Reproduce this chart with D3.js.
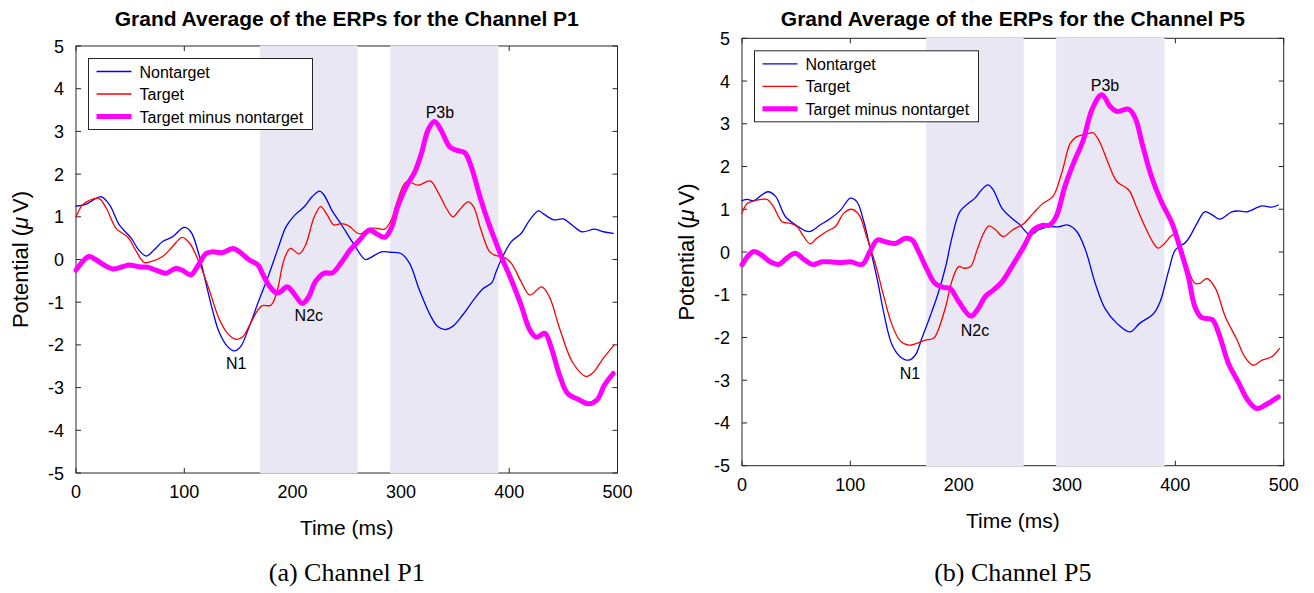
<!DOCTYPE html>
<html>
<head>
<meta charset="utf-8">
<script src="https://cdn.jsdelivr.net/npm/d3@7"></script>
<style>
  body { margin: 0; background: #fff; }
  svg { display: block; }
  text { font-family: "Liberation Sans", Arial, Helvetica, sans-serif; fill: #000; }
  .caption { font-family: "Liberation Serif", "Times New Roman", serif; }
</style>
</head>
<body>
<svg id="chart" width="1314" height="593"></svg>
<script>
// Grand average ERPs for two channels.
// Each series is a list of [time (ms), potential (uV)] pairs.

const xTicks = [0, 100, 200, 300, 400, 500];
const yTicks = [-5, -4, -3, -2, -1, 0, 1, 2, 3, 4, 5];
const shadedWindows = [[170, 260], [290, 390]];
const legendNames = ['Nontarget', 'Target', 'Target minus nontarget'];

// Channel P1
const p1Nontarget = [
  [0, 1.25], [9, 1.29], [15, 1.38], [23, 1.47], [31, 1.28], [40, 0.81], [51, 0.50],
  [58, 0.22], [65, 0.08], [72, 0.22], [80, 0.42], [89, 0.53], [100, 0.75], [106, 0.65],
  [114, 0.07], [120, -0.56], [126, -1.18], [132, -1.69], [140, -2.04], [146, -2.14],
  [152, -2.04], [160, -1.57], [169, -0.95], [178, -0.36], [186, 0.22], [194, 0.77],
  [202, 1.04], [211, 1.24], [218, 1.47], [225, 1.60], [229, 1.51], [237, 1.12],
  [245, 0.82], [256, 0.38], [267, 0.0], [271, 0.03], [282, 0.18], [290, 0.17],
  [300, 0.14], [308, -0.09], [317, -0.71], [327, -1.30], [334, -1.57], [341, -1.64],
  [348, -1.56], [357, -1.30], [367, -0.95], [376, -0.68], [384, -0.54], [388, -0.28],
  [394, 0.07], [402, 0.42], [411, 0.61], [419, 0.93], [427, 1.14], [431, 1.08],
  [441, 0.93], [450, 0.95], [458, 0.81], [467, 0.65], [479, 0.71], [487, 0.65], [496, 0.61]
];
const p1Target = [
  [0, 1.0], [6, 1.28], [12, 1.38], [21, 1.43], [28, 1.20], [37, 0.73], [48, 0.52],
  [55, 0.22], [63, -0.07], [69, -0.05], [80, 0.07], [89, 0.30], [98, 0.52], [105, 0.38],
  [114, -0.09], [123, -0.71], [132, -1.38], [140, -1.73], [148, -1.87], [154, -1.81],
  [161, -1.50], [168, -1.18], [172, -1.08], [180, -1.07], [186, -0.71], [192, -0.01],
  [198, 0.26], [206, 0.13], [212, 0.34], [220, 1.0], [226, 1.24], [232, 1.04],
  [238, 0.81], [245, 0.84], [251, 0.80], [262, 0.60], [271, 0.73], [278, 0.73],
  [285, 0.71], [291, 0.92], [297, 1.39], [305, 1.82], [316, 1.74], [327, 1.84],
  [334, 1.59], [342, 1.20], [348, 1.0], [354, 1.16], [362, 1.35], [367, 1.24],
  [374, 0.69], [382, 0.18], [388, 0.09], [394, 0.07], [402, -0.09], [411, -0.52],
  [419, -0.83], [430, -0.64], [437, -0.87], [447, -1.65], [459, -2.43], [471, -2.74],
  [477, -2.66], [487, -2.31], [497, -2.0]
];
const p1Difference = [
  [0, -0.25], [6, -0.05], [12, 0.07], [18, 0.0], [26, -0.13], [34, -0.22], [43, -0.17],
  [49, -0.13], [58, -0.17], [66, -0.18], [74, -0.25], [83, -0.32], [92, -0.21],
  [98, -0.25], [106, -0.36], [112, -0.17], [120, 0.14], [126, 0.18], [135, 0.16],
  [145, 0.26], [151, 0.18], [160, -0.01], [168, -0.13], [172, -0.32], [178, -0.60],
  [185, -0.78], [189, -0.75], [195, -0.64], [201, -0.79], [209, -1.03], [215, -0.87],
  [221, -0.52], [229, -0.32], [237, -0.31], [245, -0.07], [253, 0.22], [262, 0.46],
  [271, 0.69], [277, 0.61], [285, 0.52], [291, 0.73], [297, 1.24], [305, 1.71],
  [313, 2.06], [319, 2.49], [325, 3.03], [331, 3.23], [337, 3.03], [345, 2.64],
  [351, 2.56], [359, 2.50], [365, 2.17], [373, 1.47], [381, 0.85], [388, 0.38],
  [394, -0.01], [402, -0.48], [411, -1.07], [419, -1.65], [425, -1.82], [433, -1.73],
  [439, -2.08], [447, -2.75], [454, -3.14], [465, -3.29], [473, -3.38], [481, -3.29],
  [488, -2.94], [496, -2.67]
];
const p1Labels = [
  { text: 'N1', t: 148, v: -2.42 },
  { text: 'N2c', t: 215, v: -1.30 },
  { text: 'P3b', t: 336, v: 3.46 }
];

// Channel P5
const p5Nontarget = [
  [0, 1.20], [5, 1.23], [11, 1.20], [18, 1.33], [24, 1.41], [31, 1.30], [40, 0.83],
  [51, 0.61], [58, 0.50], [63, 0.48], [72, 0.63], [81, 0.77], [91, 0.98], [100, 1.26],
  [106, 1.18], [112, 0.75], [118, 0.12], [125, -0.66], [131, -1.44], [138, -2.14],
  [146, -2.45], [154, -2.53], [160, -2.41], [166, -2.02], [174, -1.48], [181, -0.97],
  [188, -0.34], [194, 0.36], [201, 0.94], [209, 1.14], [215, 1.26], [221, 1.45],
  [227, 1.57], [232, 1.45], [240, 1.02], [249, 0.79], [256, 0.65], [266, 0.40],
  [274, 0.52], [283, 0.59], [292, 0.59], [301, 0.63], [309, 0.48], [317, 0.05],
  [326, -0.73], [335, -1.32], [346, -1.67], [358, -1.87], [367, -1.67], [380, -1.44],
  [386, -1.16], [394, -0.42], [400, 0.05], [410, 0.24], [420, 0.67], [427, 0.94],
  [434, 0.87], [441, 0.77], [452, 0.94], [458, 0.96], [466, 0.94], [480, 1.08],
  [489, 1.05], [495, 1.10]
];
const p5Target = [
  [0, 0.91], [5, 1.14], [12, 1.20], [23, 1.23], [29, 1.06], [37, 0.71], [45, 0.67],
  [51, 0.59], [57, 0.36], [63, 0.19], [69, 0.32], [78, 0.48], [86, 0.59], [94, 0.91],
  [101, 1.0], [108, 0.87], [115, 0.36], [123, -0.27], [131, -1.05], [138, -1.67],
  [146, -2.08], [154, -2.18], [161, -2.14], [169, -2.06], [177, -2.02], [181, -1.83],
  [188, -1.28], [194, -0.66], [200, -0.34], [205, -0.38], [211, -0.34], [217, 0.05],
  [223, 0.44], [228, 0.61], [234, 0.52], [241, 0.36], [250, 0.52], [260, 0.66],
  [269, 0.91], [277, 1.12], [287, 1.30], [295, 1.84], [303, 2.54], [309, 2.70],
  [318, 2.76], [324, 2.79], [330, 2.58], [338, 2.08], [346, 1.65], [357, 1.45],
  [364, 1.06], [372, 0.59], [380, 0.20], [384, 0.09], [390, 0.20], [398, 0.40],
  [404, 0.20], [410, -0.27], [418, -0.73], [423, -0.73], [429, -0.62], [437, -0.85],
  [446, -1.51], [457, -2.06], [464, -2.45], [472, -2.65], [480, -2.53], [489, -2.45],
  [496, -2.26]
];
const p5Difference = [
  [0, -0.30], [5, -0.11], [11, 0.01], [18, -0.07], [26, -0.23], [34, -0.29], [41, -0.15],
  [49, -0.03], [57, -0.17], [65, -0.29], [74, -0.23], [81, -0.23], [91, -0.25],
  [100, -0.23], [111, -0.29], [118, 0.01], [125, 0.28], [132, 0.24], [141, 0.20],
  [151, 0.32], [157, 0.28], [163, 0.01], [171, -0.42], [178, -0.73], [186, -0.83],
  [192, -0.85], [200, -1.16], [211, -1.50], [217, -1.36], [225, -1.03], [232, -0.89],
  [240, -0.70], [250, -0.30], [260, 0.12], [269, 0.52], [277, 0.62], [284, 0.63],
  [290, 0.83], [298, 1.53], [306, 2.08], [315, 2.62], [323, 3.33], [332, 3.68],
  [340, 3.40], [346, 3.29], [357, 3.34], [363, 3.13], [370, 2.47], [378, 1.76],
  [387, 1.18], [397, 0.67], [404, 0.12], [412, -0.58], [418, -1.28], [424, -1.53],
  [434, -1.58], [440, -1.90], [449, -2.61], [458, -3.04], [467, -3.47], [475, -3.66],
  [483, -3.58], [495, -3.39]
];
const p5Labels = [
  { text: 'N1', t: 155, v: -2.83 },
  { text: 'N2c', t: 215, v: -1.83 },
  { text: 'P3b', t: 335, v: 3.91 }
];

const seriesStyles = [
  { color: '#0000ff', width: 1.3 },
  { color: '#ff0000', width: 1.3 },
  { color: '#ff00ff', width: 5 }
];

const svg = d3.select('#chart');
svg.append('rect').attr('width', 1314).attr('height', 593).attr('fill', '#fff');

function drawPanel(opts) {
  const { left, top, width, height } = opts;
  const g = svg.append('g');

  const x = d3.scaleLinear().domain([0, 500]).range([left, left + width]);
  const y = d3.scaleLinear().domain([-5, 5]).range([top + height, top]);

  // Box and inward ticks (MATLAB style)
  const axisColor = '#262626';
  g.append('rect')
    .attr('x', left).attr('y', top)
    .attr('width', width).attr('height', height)
    .attr('fill', 'none').attr('stroke', axisColor).attr('stroke-width', 1);

  const tickLen = 5;
  const ticks = g.append('g').attr('stroke', axisColor).attr('stroke-width', 1);
  xTicks.forEach(t => {
    ticks.append('line').attr('x1', x(t)).attr('x2', x(t))
      .attr('y1', top + height).attr('y2', top + height - tickLen);
    ticks.append('line').attr('x1', x(t)).attr('x2', x(t))
      .attr('y1', top).attr('y2', top + tickLen);
  });
  yTicks.forEach(v => {
    ticks.append('line').attr('x1', left).attr('x2', left + tickLen)
      .attr('y1', y(v)).attr('y2', y(v));
    ticks.append('line').attr('x1', left + width).attr('x2', left + width - tickLen)
      .attr('y1', y(v)).attr('y2', y(v));
  });

  // Shaded analysis windows (drawn over the box, like the original)
  g.selectAll('rect.win')
    .data(shadedWindows)
    .enter().append('rect')
    .attr('class', 'win')
    .attr('x', d => x(d[0]))
    .attr('width', d => x(d[1]) - x(d[0]))
    .attr('y', top - 0.5)
    .attr('height', height + 1)
    .attr('fill', '#e9e7f3');

  // Tick labels
  g.selectAll('text.xt')
    .data(xTicks)
    .enter().append('text')
    .attr('x', d => x(d))
    .attr('y', top + height + 25)
    .attr('text-anchor', 'middle')
    .attr('font-size', 18)
    .text(d => d);
  g.selectAll('text.yt')
    .data(yTicks)
    .enter().append('text')
    .attr('x', left - 12)
    .attr('y', d => y(d) + 6.5)
    .attr('text-anchor', 'end')
    .attr('font-size', 18)
    .text(d => d);

  // Axis titles
  g.append('text')
    .attr('x', left + width / 2)
    .attr('y', top + height + 62)
    .attr('text-anchor', 'middle')
    .attr('font-size', 21)
    .text('Time (ms)');
  const yl = g.append('text')
    .attr('transform', `translate(${left - 48},${top + height / 2}) rotate(-90)`)
    .attr('text-anchor', 'middle')
    .attr('font-size', 22);
  yl.append('tspan').text('Potential (');
  yl.append('tspan').attr('font-style', 'italic').text('\u03bc');
  yl.append('tspan').attr('dx', 4).text('V)');

  g.append('text')
    .attr('x', left + width / 2)
    .attr('y', 26)
    .attr('text-anchor', 'middle')
    .attr('font-size', 21)
    .attr('font-weight', 'bold')
    .text(opts.title);

  g.append('text')
    .attr('class', 'caption')
    .attr('x', left + width / 2)
    .attr('y', 581)
    .attr('text-anchor', 'middle')
    .attr('font-size', 26)
    .text(opts.caption);

  // ERP curves
  const line = d3.line()
    .x(d => x(d[0]))
    .y(d => y(d[1]))
    .curve(d3.curveCatmullRom.alpha(0.5));

  opts.series.forEach((s, i) => {
    g.append('path')
      .datum(s)
      .attr('d', line)
      .attr('fill', 'none')
      .attr('stroke', seriesStyles[i].color)
      .attr('stroke-width', seriesStyles[i].width)
      .attr('stroke-linejoin', 'round')
      .attr('stroke-linecap', 'round');
  });

  // Component labels
  g.selectAll('text.comp')
    .data(opts.labels)
    .enter().append('text')
    .attr('x', d => x(d.t))
    .attr('y', d => y(d.v) + 6)
    .attr('text-anchor', 'middle')
    .attr('font-size', 16)
    .text(d => d.text);

  // Legend
  const lg = g.append('g').attr('transform', `translate(${left + 12.5},${top + 12.5})`);
  lg.append('rect')
    .attr('width', 224).attr('height', 71)
    .attr('fill', '#fff').attr('stroke', axisColor).attr('stroke-width', 1);
  legendNames.forEach((name, i) => {
    const ry = 13 + i * 22.5;
    lg.append('line')
      .attr('x1', 8).attr('x2', 43)
      .attr('y1', ry).attr('y2', ry)
      .attr('stroke', seriesStyles[i].color)
      .attr('stroke-width', seriesStyles[i].width);
    lg.append('text')
      .attr('x', 51)
      .attr('y', ry + 6)
      .attr('font-size', 16)
      .text(name);
  });
}

drawPanel({
  left: 76, top: 46, width: 541.5, height: 427,
  title: 'Grand Average of the ERPs for the Channel P1',
  caption: '(a) Channel P1',
  series: [p1Nontarget, p1Target, p1Difference],
  labels: p1Labels
});

drawPanel({
  left: 742, top: 38.3, width: 541.7, height: 427.4,
  title: 'Grand Average of the ERPs for the Channel P5',
  caption: '(b) Channel P5',
  series: [p5Nontarget, p5Target, p5Difference],
  labels: p5Labels
});
</script>
</body>
</html>
